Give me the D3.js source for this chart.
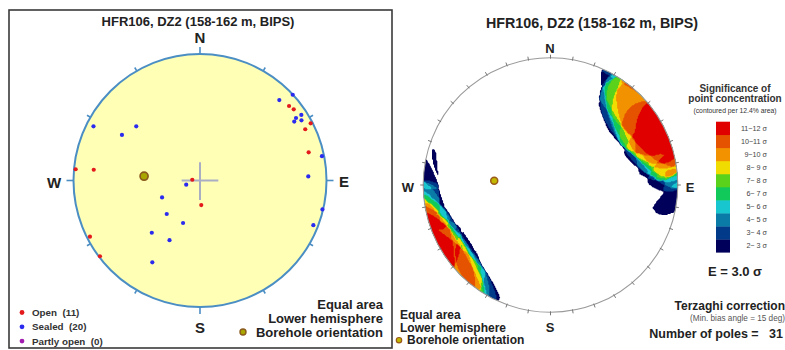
<!DOCTYPE html>
<html><head><meta charset="utf-8">
<script src="https://cdn.jsdelivr.net/npm/d3@7"></script>
<style>
body{margin:0;background:#fff}
svg{display:block;font-family:"Liberation Sans",Arial,Helvetica,sans-serif}
</style>
</head><body>
<svg id="chart" width="785" height="350"></svg>
<script>
// ---------------- data ----------------
const titleText = "HFR106, DZ2 (158-162 m, BIPS)";
// poles plotted on equal-area, lower-hemisphere net (unit-circle coords: east, north)
const openX   = [0.704, 0.741, 0.875, 0.832, 0.859, -0.983, -0.840, -0.061, 0.010, -0.870, -0.791];
const openY   = [0.589, 0.563, 0.452, 0.405, 0.223, 0.089, 0.085, 0.006, -0.194, -0.444, -0.599];
const sealedX = [0.627, 0.733, 0.801, 0.745, 0.802, 0.759, 0.964, 0.856, -0.842, -0.617, -0.504,
                 -0.109, -0.300, -0.263, -0.134, -0.381, -0.241, -0.377, 0.968, 0.896];
const sealedY = [0.636, 0.678, 0.518, 0.466, 0.476, 0.494, 0.192, 0.032, 0.428, 0.360, 0.428,
                 -0.033, -0.134, -0.265, -0.336, -0.413, -0.472, -0.647, -0.229, -0.353];
const partlyX = [];
const partlyY = [];
const boreholeXY = [-0.442, 0.034];
const legendNames = ["Open  (11)", "Sealed  (20)", "Partly open  (0)"];
const legendColors = ["#e3191c", "#2b2bf0", "#a21caf"];
const compass = ["N", "E", "S", "W"];
const sigmaLevels = [2, 3, 4, 5, 6, 7, 8, 9, 10, 11];
const sigmaLabels = ["2− 3 σ","3− 4 σ","4− 5 σ","5− 6 σ","6− 7 σ","7− 8 σ","8− 9 σ","9−10 σ","10−11 σ","11−12 σ"];
const sigmaColors = ["#00005a","#003a88","#0a7aa6","#18c6cf","#10c95a","#5ad21c","#f0dc00","#f39200","#e55300","#e00000"];
const countingArea = 0.124;   // 12.4 % area
const minBiasDeg = 15;        // Terzaghi min. bias angle
const numPoles = 31;

// ---------------- setup ----------------
const svg = d3.select("#chart");
const L = {cx: 200, cy: 180.5, R: 126.5};
const Rt = {cx: 550.5, cy: 185, R: 127.3};

// ---------------- left panel ----------------
svg.append("rect").attr("x", 9).attr("y", 10).attr("width", 383).attr("height", 338)
  .attr("fill", "none").attr("stroke", "#3a3a3a").attr("stroke-width", 1.6);

svg.append("text").attr("x", 198).attr("y", 21).attr("dy", "0.35em").attr("text-anchor", "middle")
  .attr("font-size", 13).attr("font-weight", "bold").attr("fill", "#222").text(titleText);

const xL = d3.scaleLinear().domain([-1, 1]).range([L.cx - L.R, L.cx + L.R]);
const yL = d3.scaleLinear().domain([-1, 1]).range([L.cy + L.R, L.cy - L.R]);

svg.append("circle").attr("cx", L.cx).attr("cy", L.cy).attr("r", L.R)
  .attr("fill", "#ffffb6").attr("stroke", "#4b8ec4").attr("stroke-width", 2);

const ticks30 = d3.range(0, 360, 30);
svg.append("g").selectAll("line").data(ticks30).join("line")
  .attr("x1", d => L.cx + L.R * Math.sin(d * Math.PI / 180))
  .attr("y1", d => L.cy - L.R * Math.cos(d * Math.PI / 180))
  .attr("x2", d => L.cx + (L.R + (d % 90 === 0 ? 7 : 4)) * Math.sin(d * Math.PI / 180))
  .attr("y2", d => L.cy - (L.R + (d % 90 === 0 ? 7 : 4)) * Math.cos(d * Math.PI / 180))
  .attr("stroke", "#4b8ec4").attr("stroke-width", 1.6);

svg.append("line").attr("x1", xL(-0.145)).attr("x2", xL(0.145)).attr("y1", yL(0)).attr("y2", yL(0))
  .attr("stroke", "#a9aec4").attr("stroke-width", 2);
svg.append("line").attr("x1", xL(0)).attr("x2", xL(0)).attr("y1", yL(0.145)).attr("y2", yL(-0.155))
  .attr("stroke", "#a9aec4").attr("stroke-width", 2);

const leftLabelPos = [[200, 38], [344, 182], [200, 328], [54, 183]];
svg.append("g").selectAll("text").data(compass).join("text")
  .attr("x", (d, i) => leftLabelPos[i][0]).attr("y", (d, i) => leftLabelPos[i][1])
  .attr("dy", "0.35em").attr("text-anchor", "middle")
  .attr("font-size", 15).attr("font-weight", "bold").attr("fill", "#222").text(d => d);

const openPts = openX.map((x, i) => [x, openY[i]]);
const sealedPts = sealedX.map((x, i) => [x, sealedY[i]]);
const partlyPts = partlyX.map((x, i) => [x, partlyY[i]]);
[[sealedPts, legendColors[1]], [openPts, legendColors[0]], [partlyPts, legendColors[2]]].forEach(([pts, col]) => {
  svg.append("g").selectAll("circle").data(pts).join("circle")
    .attr("cx", d => xL(d[0])).attr("cy", d => yL(d[1])).attr("r", 2.1).attr("fill", col);
});

svg.append("circle").attr("cx", xL(boreholeXY[0])).attr("cy", yL(boreholeXY[1])).attr("r", 4)
  .attr("fill", "#a9a600").attr("stroke", "#8a5a1e").attr("stroke-width", 1.7);

const lg = svg.append("g");
legendNames.forEach((nm, i) => {
  const y = 312.5 + i * 14.3;
  lg.append("circle").attr("cx", 22).attr("cy", y).attr("r", 2.4).attr("fill", legendColors[i]);
  lg.append("text").attr("x", 32).attr("y", y).attr("dy", "0.35em").attr("font-size", 9.8)
    .attr("font-weight", "bold").attr("fill", "#333").style("white-space", "pre").text(nm);
});

const leftNotes = ["Equal area", "Lower hemisphere", "Borehole orientation"];
leftNotes.forEach((t, i) => {
  svg.append("text").attr("x", 383).attr("y", 304 + i * 14).attr("dy", "0.35em").attr("text-anchor", "end")
    .attr("font-size", 13).attr("font-weight", "bold").attr("fill", "#222").text(t);
});
svg.append("circle").attr("cx", 243).attr("cy", 332).attr("r", 3)
  .attr("fill", "#a9a600").attr("stroke", "#8a5a1e").attr("stroke-width", 1.4);

// ---------------- right panel: Terzaghi-weighted Kamb contours ----------------
svg.append("text").attr("x", 592).attr("y", 23).attr("dy", "0.35em").attr("text-anchor", "middle")
  .attr("font-size", 14.3).attr("font-weight", "bold").attr("fill", "#222").text(titleText);

function toVec(x, y) {
  let r = Math.hypot(x, y);
  if (r > 1) { x /= r; y /= r; r = 1; }
  const th = 2 * Math.asin(r / Math.SQRT2);
  const k = r > 0 ? Math.sin(th) / r : 0;
  return [x * k, y * k, Math.cos(th)];
}
const dot = (a, b) => a[0] * b[0] + a[1] * b[1] + a[2] * b[2];
const bVec = toVec(boreholeXY[0], boreholeXY[1]);
const allPoles = openPts.concat(sealedPts, partlyPts).map(p => toVec(p[0], p[1]));
const minSin = Math.sin(minBiasDeg * Math.PI / 180);
const weights = allPoles.map(p => 1 / Math.max(Math.abs(dot(p, bVec)), minSin));
const W = d3.sum(weights);
const expected = W * countingArea;
const sigma = Math.sqrt(W * countingArea * (1 - countingArea));
const cosC = 1 - countingArea;

const n = 260, ext = 1.04;
const values = new Float64Array(n * n);
for (let j = 0; j < n; j++) {
  const gy = ext - (j + 0.5) * 2 * ext / n;
  for (let i = 0; i < n; i++) {
    const gx = -ext + (i + 0.5) * 2 * ext / n;
    const g = toVec(gx, gy);
    let c = 0;
    for (let k = 0; k < allPoles.length; k++) {
      if (Math.abs(dot(g, allPoles[k])) >= cosC) c += weights[k];
    }
    values[i + j * n] = (c - expected) / sigma;
  }
}
const contours = d3.contours().size([n, n]).thresholds(sigmaLevels)(values);
const su = d3.scaleLinear().domain([0, n]).range([Rt.cx - Rt.R * ext, Rt.cx + Rt.R * ext]);
const sv = d3.scaleLinear().domain([0, n]).range([Rt.cy - Rt.R * ext, Rt.cy + Rt.R * ext]);
const path = d3.geoPath(d3.geoTransform({ point(x, y) { this.stream.point(su(x), sv(y)); } }));

svg.append("clipPath").attr("id", "netclip").append("circle")
  .attr("cx", Rt.cx).attr("cy", Rt.cy).attr("r", Rt.R);
svg.append("circle").attr("cx", Rt.cx).attr("cy", Rt.cy).attr("r", Rt.R).attr("fill", "#fff");
svg.append("g").attr("clip-path", "url(#netclip)").selectAll("path").data(contours).join("path")
  .attr("d", path).attr("fill", (d, i) => sigmaColors[i]);
svg.append("circle").attr("cx", Rt.cx).attr("cy", Rt.cy).attr("r", Rt.R)
  .attr("fill", "none").attr("stroke", "#9a9a9a").attr("stroke-width", 1.1);

const ticks10 = d3.range(0, 360, 10);
svg.append("g").selectAll("line").data(ticks10).join("line")
  .attr("x1", d => Rt.cx + (Rt.R - 1) * Math.sin(d * Math.PI / 180))
  .attr("y1", d => Rt.cy - (Rt.R - 1) * Math.cos(d * Math.PI / 180))
  .attr("x2", d => Rt.cx + (Rt.R + 3) * Math.sin(d * Math.PI / 180))
  .attr("y2", d => Rt.cy - (Rt.R + 3) * Math.cos(d * Math.PI / 180))
  .attr("stroke", "#777").attr("stroke-width", 1);

const rightLabelPos = [[550, 48], [690, 187], [550, 327], [408, 187]];
svg.append("g").selectAll("text").data(compass).join("text")
  .attr("x", (d, i) => rightLabelPos[i][0]).attr("y", (d, i) => rightLabelPos[i][1])
  .attr("dy", "0.35em").attr("text-anchor", "middle")
  .attr("font-size", 13).attr("font-weight", "bold").attr("fill", "#222").text(d => d);

const xR = d3.scaleLinear().domain([-1, 1]).range([Rt.cx - Rt.R, Rt.cx + Rt.R]);
const yR = d3.scaleLinear().domain([-1, 1]).range([Rt.cy + Rt.R, Rt.cy - Rt.R]);
svg.append("circle").attr("cx", xR(boreholeXY[0])).attr("cy", yR(boreholeXY[1])).attr("r", 3.5)
  .attr("fill", "#c2b800").attr("stroke", "#9a5a1a").attr("stroke-width", 1.5);

const legTitle = [["Significance of", 88, 10], ["point concentration", 98.5, 10], ["(contoured per 12.4% area)", 111, 6.8]];
legTitle.forEach(([t, y, fs]) => {
  svg.append("text").attr("x", 735).attr("y", y).attr("dy", "0.35em").attr("text-anchor", "middle")
    .attr("font-size", fs).attr("fill", "#333").attr("font-weight", fs > 8 ? "bold" : "normal").text(t);
});
const bandY = d3.scaleBand().domain(d3.range(sigmaLevels.length).reverse()).range([121.7, 252.3]);
const cl = svg.append("g");
cl.selectAll("rect").data(d3.range(sigmaLevels.length)).join("rect")
  .attr("x", 716).attr("width", 14).attr("y", d => bandY(d)).attr("height", bandY.bandwidth() + 0.3)
  .attr("fill", d => sigmaColors[d]);
cl.selectAll("text").data(d3.range(sigmaLevels.length)).join("text")
  .attr("x", 767).attr("y", d => bandY(d) + bandY.bandwidth() / 2).attr("dy", "0.35em")
  .attr("text-anchor", "end").attr("font-size", 7.2).attr("fill", "#444").text(d => sigmaLabels[d]);

svg.append("text").attr("x", 735).attr("y", 271).attr("dy", "0.35em").attr("text-anchor", "middle")
  .attr("font-size", 13).attr("font-weight", "bold").attr("fill", "#222").text("E = 3.0 σ");

svg.append("text").attr("x", 785).attr("y", 306).attr("dy", "0.35em").attr("text-anchor", "end")
  .attr("font-size", 12).attr("font-weight", "bold").attr("fill", "#222").text("Terzaghi correction");
svg.append("text").attr("x", 785).attr("y", 318.5).attr("dy", "0.35em").attr("text-anchor", "end")
  .attr("font-size", 8.2).attr("fill", "#555").text("(Min. bias angle = " + minBiasDeg + " deg)");
svg.append("text").attr("x", 783).attr("y", 334).attr("dy", "0.35em").attr("text-anchor", "end")
  .attr("font-size", 12.5).attr("font-weight", "bold").attr("fill", "#222")
  .style("white-space", "pre").text("Number of poles =   " + numPoles);

const rightNotes = ["Equal area", "Lower hemisphere", "Borehole orientation"];
rightNotes.forEach((t, i) => {
  svg.append("text").attr("x", i === 2 ? 407 : 400).attr("y", 315 + i * 12.6).attr("dy", "0.35em")
    .attr("font-size", 12).attr("font-weight", "bold").attr("fill", "#222").text(t);
});
svg.append("circle").attr("cx", 399).attr("cy", 340.2).attr("r", 2.7)
  .attr("fill", "#c2b800").attr("stroke", "#9a5a1a").attr("stroke-width", 1.2);
</script>
</body></html>
